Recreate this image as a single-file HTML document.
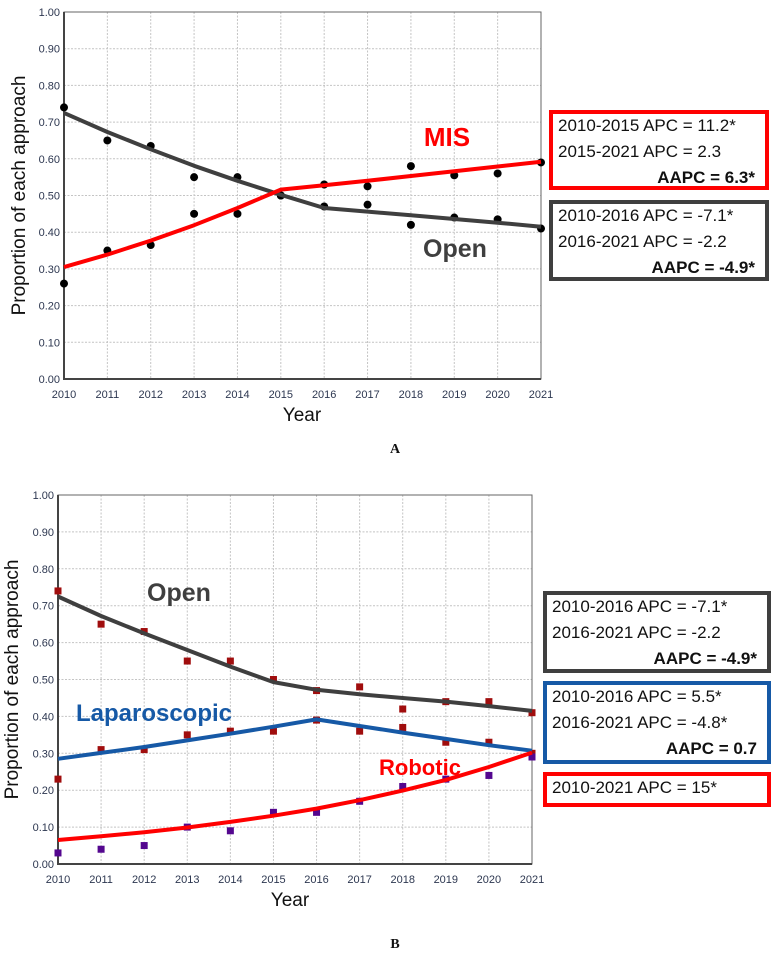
<!DOCTYPE html>
<html><head><meta charset="utf-8">
<style>
body{margin:0;background:#fff;}
svg{display:block;}
.tick{font:11px "Liberation Sans",sans-serif;fill:#2d3750;}
.ttl{font:19px "Liberation Sans",sans-serif;fill:#111;}
.box{font:17px "Liberation Sans",sans-serif;fill:#111;}
.boxb{font:bold 17px "Liberation Sans",sans-serif;fill:#111;}
.lbl{font:bold 14px "Liberation Serif",serif;fill:#111;}
</style></head>
<body>
<svg id="c" width="780" height="954" viewBox="0 0 780 954"></svg>
<script>
const years=[2010,2011,2012,2013,2014,2015,2016,2017,2018,2019,2020,2021];
const yTicks=[0,0.1,0.2,0.3,0.4,0.5,0.6,0.7,0.8,0.9,1.0];
const yTickLabels=["0.00","0.10","0.20","0.30","0.40","0.50","0.60","0.70","0.80","0.90","1.00"];
// Panel A
const aOpenObs=[0.74,0.65,0.635,0.55,0.55,0.50,0.47,0.475,0.42,0.44,0.435,0.41];
const aMisObs=[0.26,0.35,0.365,0.45,0.45,0.50,0.53,0.525,0.58,0.555,0.56,0.59];
const aOpenFit=[0.725,0.673,0.626,0.581,0.540,0.502,0.466,0.456,0.446,0.436,0.426,0.415];
const aMisFit=[0.305,0.339,0.377,0.419,0.466,0.516,0.528,0.540,0.553,0.566,0.579,0.592];
// Panel B
const bOpenObs=[0.74,0.65,0.63,0.55,0.55,0.50,0.47,0.48,0.42,0.44,0.44,0.41];
const bLapObs=[0.23,0.31,0.31,0.35,0.36,0.36,0.39,0.36,0.37,0.33,0.33,0.30];
const bRobObs=[0.03,0.04,0.05,0.10,0.09,0.14,0.14,0.17,0.21,0.23,0.24,0.29];
const bOpenFit=[0.725,0.672,0.625,0.58,0.535,0.493,0.472,0.46,0.45,0.44,0.428,0.415];
const bLapFit=[0.285,0.301,0.317,0.335,0.353,0.372,0.392,0.374,0.356,0.339,0.322,0.307];
const bRobFit=[0.065,0.075,0.086,0.099,0.114,0.131,0.150,0.173,0.199,0.228,0.263,0.302];

const NS="http://www.w3.org/2000/svg";
const svg=document.getElementById('c');
function mk(tag,attrs,parent,txt){const e=document.createElementNS(NS,tag);for(const k in attrs)e.setAttribute(k,attrs[k]);if(txt!==undefined)e.textContent=txt;(parent||svg).appendChild(e);return e;}

function panel(P){
  const g=mk('g',{});
  
  
  const xs=v=>P.x0+(v-2010)*(P.x1-P.x0)/11;
  const ys=v=>P.y0-(v)*(P.y0-P.y1);
  yTicks.forEach((t,i)=>{
    const l=mk('line',{x1:P.x0,x2:P.x1,y1:ys(t),y2:ys(t),stroke:'#c4c4c4','stroke-width':1,'stroke-dasharray':'2,1.5'},g);
    
    
    const tx=mk('text',{x:P.x0-4,y:ys(t)+4,'text-anchor':'end',class:'tick'},g,yTickLabels[i]);
    
    
  });
  years.forEach(y=>{
    const l=mk('line',{x1:xs(y),x2:xs(y),y1:P.y1,y2:P.y0,stroke:'#c4c4c4','stroke-width':1,'stroke-dasharray':'2,1.5'},g);
    
    
    const tx=mk('text',{x:xs(y),y:P.y0+19,'text-anchor':'middle',class:'tick'},g,String(y));
    
    
  });
  const fr=mk('rect',{x:P.x0,y:P.y1,width:P.x1-P.x0,height:P.y0-P.y1,fill:'none',stroke:'#666','stroke-width':1},g);
  
  
  const ax=mk('path',{d:`M${P.x0},${P.y1}V${P.y0}H${P.x1}`,fill:'none',stroke:'#444','stroke-width':2},g);
  
  
  const yt=mk('text',{x:0,y:0,'text-anchor':'middle',class:'ttl',transform:`translate(${P.ytx},${(P.y0+P.y1)/2}) rotate(-90)`},g,'Proportion of each approach');
  
  
  const xt=mk('text',{x:P.xtx,y:P.y0+42,'text-anchor':'middle',class:'ttl'},g,'Year');
  
  
  P.obs.forEach(s=>{
    s.vals.forEach((v,i)=>{
      let m;
      if(s.shape==='circle') m=mk('circle',{cx:xs(years[i]),cy:ys(v),r:4,fill:s.color},g);
      else m=mk('rect',{x:xs(years[i])-3.5,y:ys(v)-3.5,width:7,height:7,fill:s.color},g);
      
      
    });
  });
  P.fits.forEach(s=>{
    const d=s.vals.map((v,i)=>(i?'L':'M')+xs(years[i]).toFixed(1)+','+ys(v).toFixed(1)).join('');
    const p=mk('path',{d:d,fill:'none',stroke:s.color,'stroke-width':4,'stroke-linejoin':'round'},g);
    
    
  });
  P.labels.forEach(L=>{
    const t=mk('text',{x:L.x,y:L.y,'text-anchor':'middle',fill:L.color,style:`font:bold ${L.size}px "Liberation Sans",sans-serif`},g,L.text);
    
    
  });
  P.boxes.forEach(B=>{
    const bg=mk('g',{},g);
    
    
    mk('rect',{x:B.x+2,y:B.y+2,width:B.w-4,height:B.h-4,fill:'#fff',stroke:B.color,'stroke-width':4},bg);
    B.lines.forEach((ln,i)=>{
      const right=ln.startsWith('AAPC');
      mk('text',{x:right?B.x+B.w-14:B.x+9,y:B.y+21+i*26,'text-anchor':right?'end':'start',class:right?'boxb':'box'},bg,ln);
    });
  });
}

panel({name:'panel-a-chart',x0:64,x1:541,y0:379,y1:12,ytx:25,xtx:302,
  obs:[{name:'open',vals:aOpenObs,color:'#000',shape:'circle'},{name:'mis',vals:aMisObs,color:'#000',shape:'circle'}],
  fits:[{name:'open',vals:aOpenFit,color:'#3f3f3f'},{name:'mis',vals:aMisFit,color:'#ff0000'}],
  labels:[{name:'mis-label',text:'MIS',x:447,y:146,size:26,color:'#ff0000'},{name:'open-label',text:'Open',x:455,y:257,size:25,color:'#3f3f3f'}],
  boxes:[{name:'mis-apc-box',x:549,y:110,w:220,h:80,color:'#ff0000',lines:['2010-2015 APC = 11.2*','2015-2021 APC = 2.3','AAPC = 6.3*']},
         {name:'open-apc-box',x:549,y:200,w:220,h:81,color:'#3f3f3f',lines:['2010-2016 APC = -7.1*','2016-2021 APC = -2.2','AAPC = -4.9*']}]
});
panel({name:'panel-b-chart',x0:58,x1:532,y0:864,y1:495,ytx:18,xtx:290,
  obs:[{name:'open',vals:bOpenObs,color:'#a00d0d',shape:'square'},{name:'laparoscopic',vals:bLapObs,color:'#a00d0d',shape:'square'},{name:'robotic',vals:bRobObs,color:'#54078f',shape:'square'}],
  fits:[{name:'open',vals:bOpenFit,color:'#3f3f3f'},{name:'laparoscopic',vals:bLapFit,color:'#1659a6'},{name:'robotic',vals:bRobFit,color:'#ff0000'}],
  labels:[{name:'open-label',text:'Open',x:179,y:601,size:25,color:'#3f3f3f'},{name:'laparoscopic-label',text:'Laparoscopic',x:154,y:721,size:24,color:'#1659a6'},{name:'robotic-label',text:'Robotic',x:420,y:775,size:22,color:'#ff0000'}],
  boxes:[{name:'open-apc-box',x:543,y:591,w:228,h:82,color:'#3f3f3f',lines:['2010-2016 APC = -7.1*','2016-2021 APC = -2.2','AAPC = -4.9*']},
         {name:'laparoscopic-apc-box',x:543,y:681,w:228,h:83,color:'#1659a6',lines:['2010-2016 APC = 5.5*','2016-2021 APC = -4.8*','AAPC = 0.7']},
         {name:'robotic-apc-box',x:543,y:772,w:228,h:35,color:'#ff0000',lines:['2010-2021 APC = 15*']}]
});
const a=mk('text',{x:395,y:453,'text-anchor':'middle',class:'lbl'},svg,'A');


const b=mk('text',{x:395,y:948,'text-anchor':'middle',class:'lbl'},svg,'B');


</script>
</body></html>
